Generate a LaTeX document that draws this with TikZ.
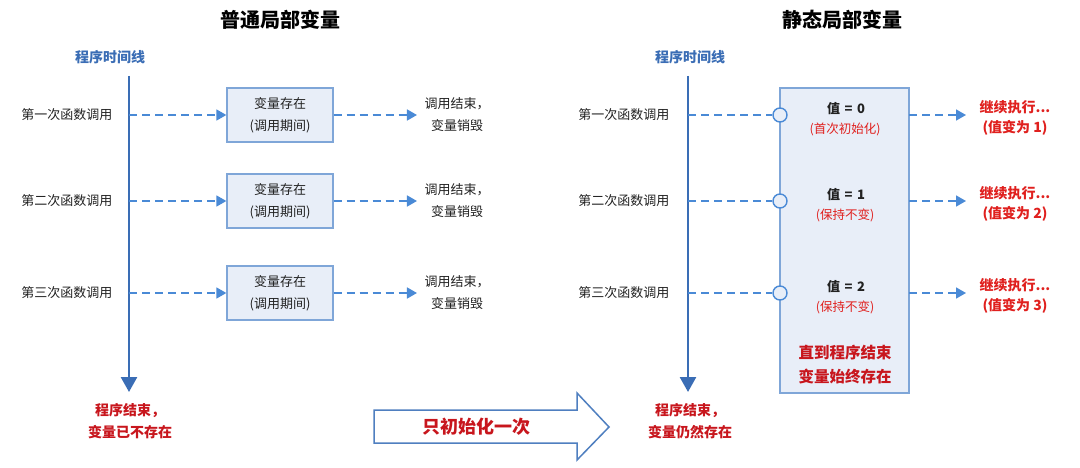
\documentclass[tikz,border=0pt]{standalone}
\usepackage{fontspec}
\setmainfont{Noto Sans CJK SC}
\usetikzlibrary{arrows.meta}
\definecolor{tlc}{HTML}{3A6DB5}
\definecolor{dac}{HTML}{4A8AD6}
\definecolor{bxc}{HTML}{E8EEF8}
\definecolor{bdc}{HTML}{7FA6D8}
\definecolor{rdc}{HTML}{C8161D}
\definecolor{rdb}{HTML}{E0201E}
\definecolor{txc}{HTML}{222222}
\definecolor{arc}{HTML}{4F7FC0}
\tikzset{
  titletext/.style={font=\fontsize{20}{24}\selectfont\bfseries, text=black},
  tltext/.style={font=\fontsize{14}{17}\selectfont\bfseries, text=tlc},
  rowtext/.style={font=\fontsize{13}{16}\selectfont, text=txc},
  endtext/.style={font=\fontsize{13}{22}\selectfont, text=txc, align=center},
  timeline/.style={draw=tlc, line width=2.6pt, -{Triangle[width=16pt,length=15pt]}},
  dasharrow/.style={draw=dac, line width=1.6pt, dash pattern=on 8pt off 5pt, -{Triangle[width=11pt,length=10pt]}},
  dashline/.style={draw=dac, line width=1.6pt, dash pattern=on 8pt off 5pt},
  varbox/.style={draw=bdc, fill=bxc, line width=1.3pt, minimum width=106pt, minimum height=54pt, inner sep=0pt, align=center, font=\fontsize{13}{22}\selectfont, text=txc},
  bigbox/.style={draw=bdc, fill=bxc, line width=1.3pt, minimum width=129pt, minimum height=305pt, inner sep=0pt},
  dot/.style={circle, draw=dac, fill=bxc, line width=1.4pt, minimum size=14pt, inner sep=0pt},
  valtext/.style={font=\fontsize{13}{16}\selectfont\bfseries, text=txc},
  valnote/.style={font=\fontsize{12.5}{15}\selectfont, text=rdb},
  redend/.style={font=\fontsize{14}{22}\selectfont\bfseries, text=rdc, align=center},
  conttext/.style={font=\fontsize{14}{20}\selectfont\bfseries, text=rdb, align=center},
}
\begin{document}
\begin{tikzpicture}[x=1pt,y=-1pt]
\useasboundingbox[fill=white] (0,0) rectangle (1080,468);

% ---------- left panel ----------
\node[titletext] (t1) at (280,20) {普通局部变量};
\node[tltext] (tl1) at (110,57) {程序时间线};
\coordinate (L0) at (129,76);
\coordinate (L9) at (129,392);
\draw[timeline] (L0) -- (L9);

\foreach \i/\y/\lab in {1/115/第一次函数调用, 2/201/第二次函数调用, 3/293/第三次函数调用}{
  \node[rowtext, anchor=east] (lr\i) at (116,\y) {\lab};
  \coordinate (lp\i) at (129,\y);
  \node[varbox] (lb\i) at (280,\y) {变量存在\\(调用期间)};
  \node[endtext] (le\i) at (457,\y) {调用结束，\\变量销毁};
  \draw[dasharrow] (lp\i) -- (lb\i.west);
  \draw[dasharrow, shorten >=4pt] (lb\i.east) -- (le\i.west);
}
\node[redend] (lend) at (130,421) {程序结束，\\变量已不存在};

% ---------- middle block arrow ----------
\draw[draw=arc, fill=white, line width=1.5pt, line join=miter]
  (374,410) -- (577,410) -- (577,393) -- (609,427) -- (577,460) -- (577,443) -- (374,443) -- cycle;
\node[font=\fontsize{18}{22}\selectfont\bfseries, text=rdc] (once) at (476,427) {只初始化一次};

% ---------- right panel ----------
\node[titletext] (t2) at (842,20) {静态局部变量};
\node[tltext] (tl2) at (690,57) {程序时间线};
\coordinate (R0) at (688,76);
\coordinate (R9) at (688,392);
\draw[timeline] (R0) -- (R9);

\node[bigbox] (sb) at (844.5,240.5) {};

\foreach \i/\y/\v/\note/\k/\lab in {1/115/0/(首次初始化)/1/第一次函数调用, 2/201/1/(保持不变)/2/第二次函数调用, 3/293/2/(保持不变)/3/第三次函数调用}{
  \node[rowtext, anchor=east] (rr\i) at (673,\y) {\lab};
  \coordinate (rp\i) at (688,\y);
  \node[dot] (c\i) at (780,\y) {};
  \draw[dashline] (rp\i) -- (c\i.west);
  \node[valtext] (v\i) at (846,\y-6) {值\hspace{0.35em}=\hspace{0.35em}\v};
  \node[valnote] (n\i) at (845,\y+14) {\note};
  \coordinate (rs\i) at (909,\y);
  \coordinate (re\i) at (966,\y);
  \node[conttext] (k\i) at (1015,\y+3) {继续执行...\\(值变为 \k)};
  \draw[dasharrow] (rs\i) -- (re\i);
}
\node[redend, font=\fontsize{15.5}{24}\selectfont\bfseries] (forever) at (845,365) {直到程序结束\\变量始终存在};
\node[redend] (rend) at (690,421) {程序结束，\\变量仍然存在};
\end{tikzpicture}
\end{document}
